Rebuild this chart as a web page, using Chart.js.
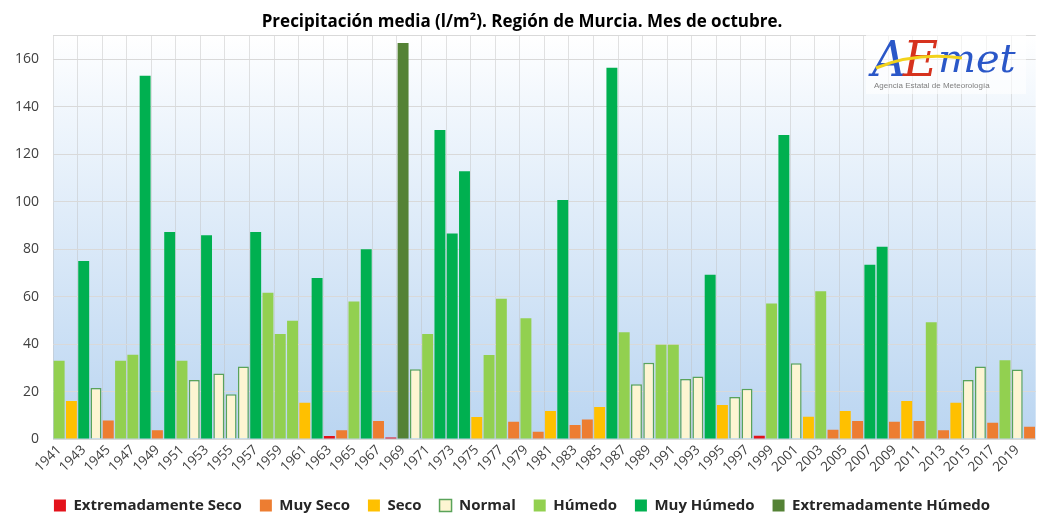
<!DOCTYPE html>
<html lang="es">
<head>
<meta charset="utf-8">
<title>Precipitación media octubre - Región de Murcia</title>
<script src="https://cdn.jsdelivr.net/npm/chart.js@4.4.1/dist/chart.umd.min.js"></script>
<style>
  html, body { margin: 0; padding: 0; background: #fff; }
  #wrap { width: 1044px; height: 515px; }
</style>
</head>
<body>
<div id="wrap"><canvas id="precipChart"></canvas></div>
<script>
// Precipitación media de octubre, Región de Murcia (l/m2), 1941-2020

const years = [
  1941, 1942, 1943, 1944, 1945, 1946, 1947, 1948, 1949, 1950,
  1951, 1952, 1953, 1954, 1955, 1956, 1957, 1958, 1959, 1960,
  1961, 1962, 1963, 1964, 1965, 1966, 1967, 1968, 1969, 1970,
  1971, 1972, 1973, 1974, 1975, 1976, 1977, 1978, 1979, 1980,
  1981, 1982, 1983, 1984, 1985, 1986, 1987, 1988, 1989, 1990,
  1991, 1992, 1993, 1994, 1995, 1996, 1997, 1998, 1999, 2000,
  2001, 2002, 2003, 2004, 2005, 2006, 2007, 2008, 2009, 2010,
  2011, 2012, 2013, 2014, 2015, 2016, 2017, 2018, 2019, 2020
];

const precip = [
  33, 16, 75, 21.5, 7.8, 33, 35.5, 153, 3.7, 87.2,
  33, 24.8, 85.8, 27.6, 18.9, 30.5, 87.2, 61.6, 44.2, 49.8,
  15.3, 67.8, 1.3, 3.7, 57.9, 79.9, 7.6, 0.6, 166.8, 29.4,
  44.2, 130.2, 86.6, 112.8, 9.3, 35.4, 59.1, 7.3, 50.9, 3.1,
  11.8, 100.7, 5.9, 8.2, 13.5, 156.4, 45, 23.1, 32.1, 39.7,
  39.7, 25.3, 26.3, 69.2, 14.3, 17.7, 21.2, 1.4, 57.1, 128,
  31.9, 9.4, 62.2, 3.9, 11.8, 7.6, 73.4, 81, 7.3, 16,
  7.6, 49.2, 3.7, 15.3, 24.8, 30.5, 6.8, 33.2, 29.3, 5.2
];

// carácter de cada año
const yearClass = [
  'H', 'S', 'MH', 'N', 'MS', 'H', 'H', 'MH', 'MS', 'MH',
  'H', 'N', 'MH', 'N', 'N', 'N', 'MH', 'H', 'H', 'H',
  'S', 'MH', 'ES', 'MS', 'H', 'MH', 'MS', 'ES', 'EH', 'N',
  'H', 'MH', 'MH', 'MH', 'S', 'H', 'H', 'MS', 'H', 'MS',
  'S', 'MH', 'MS', 'MS', 'S', 'MH', 'H', 'N', 'N', 'H',
  'H', 'N', 'N', 'MH', 'S', 'N', 'N', 'ES', 'H', 'MH',
  'N', 'S', 'H', 'MS', 'S', 'MS', 'MH', 'MH', 'MS', 'S',
  'MS', 'H', 'MS', 'S', 'N', 'N', 'MS', 'H', 'N', 'MS'
];

const categoryCodes = ['ES', 'MS', 'S', 'N', 'H', 'MH', 'EH'];
const categoryNames = [
  'Extremadamente Seco', 'Muy Seco', 'Seco', 'Normal',
  'Húmedo', 'Muy Húmedo', 'Extremadamente Húmedo'
];

const yTicks = [0, 20, 40, 60, 80, 100, 120, 140, 160];

// estilos
const fillColors = ['#e3121b', '#ed7d31', '#ffc000', '#fdf5d2', '#92d050', '#00b050', '#548235'];
const edgeColors = ['#e3121b', '#ed7d31', '#ffc000', '#5aa35a', '#92d050', '#00b050', '#548235'];

const datasets = categoryCodes.map((code, k) => ({
  label: categoryNames[k],
  data: precip.map((v, i) => yearClass[i] === code ? v : null),
  backgroundColor: fillColors[k],
  borderColor: edgeColors[k],
  borderWidth: code === 'N' ? 1.5 : 0,
  barPercentage: 0.89,
  categoryPercentage: 1
}));

// fondo degradado del área de trazado
const plotBackground = {
  id: 'plotBackground',
  beforeDraw(chart) {
    const { ctx, chartArea: a } = chart;
    const g = ctx.createLinearGradient(0, a.top, 0, a.bottom);
    g.addColorStop(0, '#ffffff');
    g.addColorStop(0.15, '#f3f8fd');
    g.addColorStop(1, '#bad5f1');
    ctx.save();
    ctx.fillStyle = g;
    ctx.fillRect(a.left, a.top, a.right - a.left, a.bottom - a.top);
    ctx.restore();
  }
};

// logotipo AEMET (texto)
const aemetLogo = {
  id: 'aemetLogo',
  afterDraw(chart) {
    const ctx = chart.ctx;
    ctx.save();
    ctx.fillStyle = 'rgba(255,255,255,0.6)';
    ctx.fillRect(866, 22, 160, 72);
    ctx.textBaseline = 'alphabetic';
    ctx.font = 'italic 48px "DejaVu Serif"';
    ctx.fillStyle = '#2a57c8';
    ctx.fillText('A', 872, 76);
    ctx.fillStyle = '#d6321e';
    ctx.fillText('E', 903, 76);
    ctx.fillStyle = '#2a57c8';
    ctx.font = 'italic 40px "DejaVu Serif"';
    ctx.fillText('met', 938, 72);
    ctx.strokeStyle = '#f2d21b';
    ctx.lineWidth = 3;
    ctx.beginPath();
    ctx.moveTo(876, 68);
    ctx.quadraticCurveTo(915, 52, 962, 58);
    ctx.stroke();
    ctx.font = '8px "Liberation Sans"';
    ctx.fillStyle = '#7f7f7f';
    ctx.fillText('Agencia Estatal de Meteorología', 874, 88);
    ctx.restore();
  }
};

new Chart(document.getElementById('precipChart'), {
  type: 'bar',
  data: { labels: years, datasets: datasets },
  plugins: [plotBackground, aemetLogo],
  options: {
    responsive: true,
    maintainAspectRatio: false,
    animation: false,
    layout: { padding: { left: 0, right: 0, top: 0, bottom: -8 } },
    scales: {
      x: {
        stacked: true,
        afterFit: scale => { scale.height = 41; },
        grid: {
          offset: true,
          drawTicks: false,
          color: ctx => ctx.index % 2 === 0 ? 'rgba(190,190,190,0.45)' : 'rgba(0,0,0,0)'
        },
        border: { display: false },
        ticks: {
          autoSkip: false,
          maxRotation: 45,
          minRotation: 45,
          padding: 3,
          color: '#404040',
          font: { family: '"Open Sans"', size: 13.5 },
          callback: (v, i) => i % 2 === 0 ? years[i] : ''
        }
      },
      y: {
        stacked: true,
        min: 0,
        max: 170,
        afterFit: scale => { scale.width = 53; },
        afterBuildTicks: scale => {
          scale.ticks = yTicks.concat([170]).map(v => ({ value: v }));
        },
        grid: { color: '#d9d9d9', drawTicks: false },
        border: { display: false },
        ticks: {
          padding: 14,
          color: '#404040',
          font: { family: '"Open Sans"', size: 14 },
          callback: v => yTicks.includes(v) ? v : ''
        }
      }
    },
    plugins: {
      title: {
        display: true,
        text: 'Precipitación media (l/m²). Región de Murcia. Mes de octubre.',
        color: '#000',
        font: { family: '"Open Sans"', size: 17, weight: 'bold' },
        padding: { top: 12, bottom: 3 }
      },
      legend: {
        position: 'bottom',
        labels: {
          boxWidth: 12,
          boxHeight: 12,
          padding: 18,
          color: '#262626',
          font: { family: '"Open Sans"', size: 15, weight: 'bold' }
        }
      },
      tooltip: { enabled: false }
    }
  }
});
</script>
</body>
</html>
